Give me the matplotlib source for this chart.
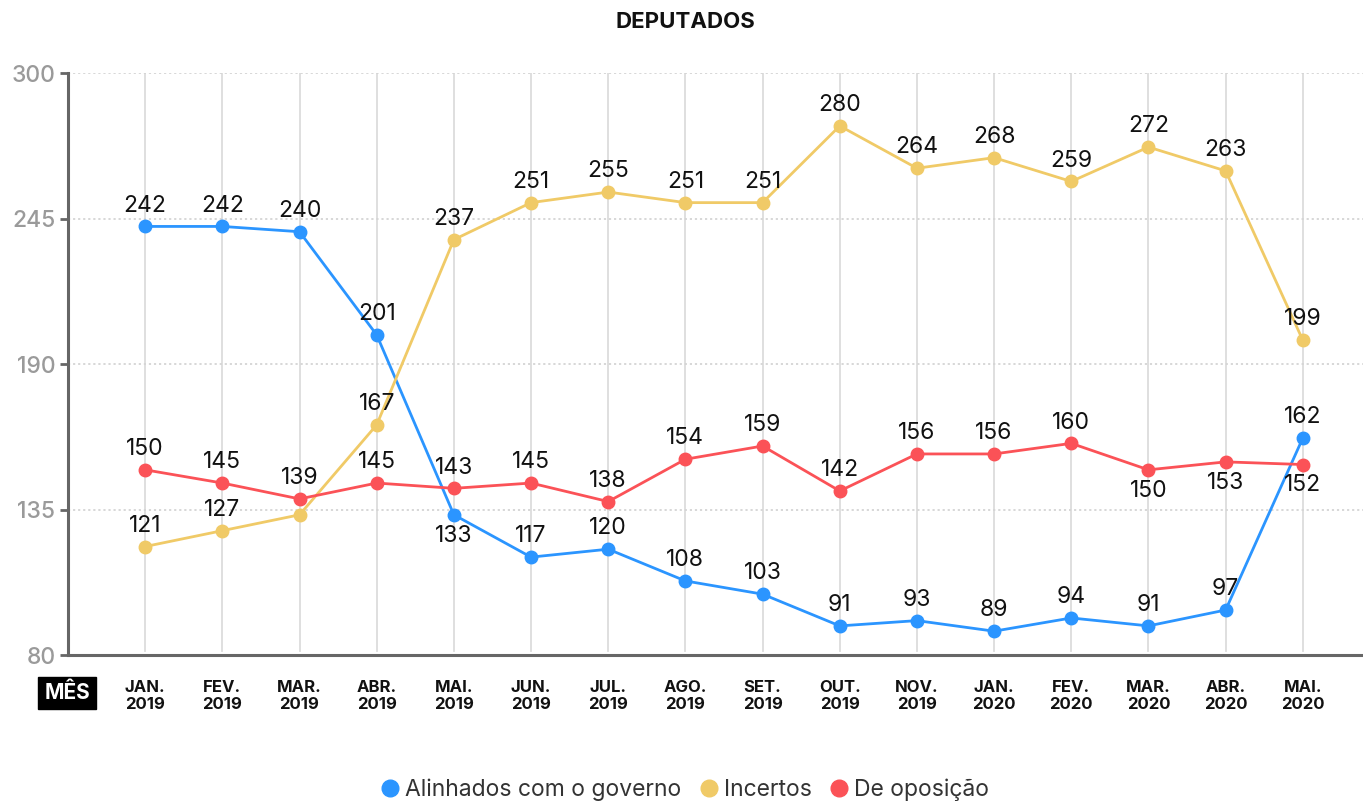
import matplotlib
matplotlib.use("Agg")
import matplotlib.pyplot as plt
from matplotlib.lines import Line2D

plt.rcParams['font.family'] = ['Inter', 'DejaVu Sans']

months = ["JAN.\n2019", "FEV.\n2019", "MAR.\n2019", "ABR.\n2019", "MAI.\n2019", "JUN.\n2019",
          "JUL.\n2019", "AGO.\n2019", "SET.\n2019", "OUT.\n2019", "NOV.\n2019", "JAN.\n2020",
          "FEV.\n2020", "MAR.\n2020", "ABR.\n2020", "MAI.\n2020"]
alinhados = [242, 242, 240, 201, 133, 117, 120, 108, 103, 91, 93, 89, 94, 91, 97, 162]
incertos = [121, 127, 133, 167, 237, 251, 255, 251, 251, 280, 264, 268, 259, 272, 263, 199]
oposicao = [150, 145, 139, 145, 143, 145, 138, 154, 159, 142, 156, 156, 160, 150, 153, 152]
yticks = [80, 135, 190, 245, 300]

series = [
    ("Alinhados com o governo", alinhados, "#2b95ff", {4: -1}, set()),
    ("Incertos", incertos, "#f0ca67", {}, {2}),
    ("De oposição", oposicao, "#fb5257", {13: -1, 14: -1, 15: -1}, set()),
]

fig = plt.figure(figsize=(13.63, 8.02), dpi=100)
ax = fig.add_axes([68 / 1363, 1 - 655 / 802, 1 - 68 / 1363, (655 - 73) / 802])
x = list(range(len(months)))
ax.set_xlim(-1, 15.78)
ax.set_ylim(80, 300)

# grids
for xi in x:
    ax.plot([xi, xi], [81.5, 300], color="#dcdcdc", lw=1.3, zorder=0)
for yt in yticks[1:]:
    ax.axhline(yt, color="#d4d4d4", lw=1.3, ls=(0, (1.2, 1.6)), zorder=0)

for name, vals, col, pos, skip in series:
    ax.plot(x, vals, color=col, lw=2.0, marker="o", ms=9, zorder=3, clip_on=False)
    for i, v in enumerate(vals):
        if i in skip:
            continue
        d = pos.get(i, 1)
        ax.annotate(str(v), (i, v), xytext=(0, 15 * d), textcoords="offset points",
                    ha="center", va="center", fontsize=16.5, color="#111111", zorder=4)

for s in ["top", "right"]:
    ax.spines[s].set_visible(False)
ax.spines["left"].set_color("#666666")
ax.spines["left"].set_linewidth(2.2)
ax.spines["bottom"].set_color("#666666")
ax.spines["bottom"].set_linewidth(2.2)
ax.spines["left"].set_zorder(5)

ax.set_yticks(yticks)
ax.set_yticklabels([str(t) for t in yticks], fontsize=16.5, color="#9a9a9a", fontweight="medium")
ax.tick_params(axis="y", length=6, width=2, color="#666666", pad=3)
ax.set_xticks(x)
ax.set_xticklabels(months, fontsize=12, fontweight="bold", color="#111111", linespacing=1.15)
ax.tick_params(axis="x", length=0, pad=18)

fig.text(685 / 1363, 1 - 22 / 802, "DEPUTADOS", ha="center", va="center",
         fontsize=16, fontweight="bold", color="#111111")
fig.text(67 / 1363, 1 - 693 / 802, "MÊS", ha="center", va="center", fontsize=15,
         fontweight="bold", color="white",
         bbox=dict(boxstyle="square,pad=0.28", fc="black", ec="black"))

handles = [Line2D([], [], marker="o", ls="", ms=12, color=c, label=n) for n, _, c, _, _ in series]
fig.legend(handles=handles, loc="center", bbox_to_anchor=(685 / 1363, 1 - 790 / 802), ncol=3,
           frameon=False, fontsize=16.5, handletextpad=0.25, columnspacing=0.8,
           labelcolor="#333333", handlelength=0.8)

fig.savefig("out.png", dpi=100)
